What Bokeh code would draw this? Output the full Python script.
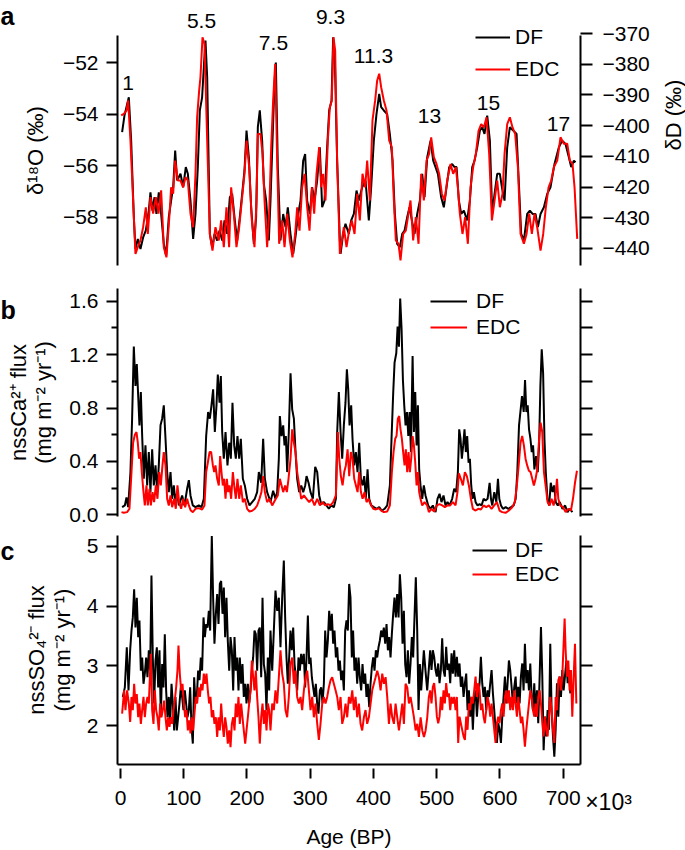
import math
from bokeh.plotting import figure
from bokeh.models import Range1d, LinearAxis, FixedTicker, Legend, LegendItem, Label, PrintfTickFormatter
from bokeh.layouts import column
from bokeh.embed import file_html
from bokeh.resources import INLINE

FONT = "Liberation Sans"

# ---------------- data ----------------
# Panel a: DF d18O (permil) and EDC dD (permil), age in ka BP
df_o18_age = [2.6, 6.3, 13.2, 16.9, 21.1, 23.7, 27.4, 31.6, 35.8, 40.1, 44.8, 47.4, 50.6, 53.8, 56.9, 60.6, 64.3, 68.5, 72.2, 76.4,
              80.1, 83.3, 86.5, 89.6, 94.9, 99.1, 103.3, 106.5, 110.7, 114.9, 118.6, 122.3, 125.5, 129.1, 131.8, 134.4, 137.1, 141.3, 145.0, 148.7,
              152.9, 156.6, 160.8, 164.5, 168.7, 172.9, 176.6, 180.8, 184.5, 188.7, 192.4, 196.1, 199.3, 203.0, 206.6, 210.9, 214.5, 217.2, 220.3, 224.0,
              226.7, 230.4, 234.6, 237.2, 240.4, 243.5, 245.7, 248.8, 253.0, 257.3, 261.0, 264.6, 268.8, 273.1, 277.3, 281.0, 284.7, 288.9, 292.0, 295.2,
              299.4, 303.1, 306.8, 311.0, 315.2, 318.9, 322.6, 326.8, 330.0, 333.7, 336.3, 339.0, 342.6, 346.9, 348.0, 352.1, 355.8, 361.1, 364.8, 369.0,
              373.2, 376.9, 382.2, 387.5, 392.7, 396.4, 400.6, 404.8, 409.1, 412.2, 416.4, 421.7, 425.9, 430.2, 433.9, 437.5, 441.8, 445.5, 449.2, 453.4,
              457.1, 460.8, 465.0, 469.2, 473.4, 477.1, 480.8, 485.0, 490.3, 494.5, 498.2, 501.9, 507.1, 511.3, 515.6, 519.8, 524.5, 528.2, 531.4, 535.1,
              538.8, 543.0, 548.2, 552.5, 556.2, 559.9, 564.1, 568.3, 571.9, 575.6, 579.9, 584.1, 587.8, 591.5, 595.7, 599.9, 603.1, 607.3, 611.5, 615.7,
              621.0, 626.3, 630.0, 633.6, 637.9, 643.1, 647.3, 651.6, 656.3, 660.0, 664.2, 669.5, 674.8, 680.0, 686.3, 693.2, 698.5, 703.7, 709.0, 712.7,
              716.9, 719.6]
df_o18 = [-54.7, -54.06, -53.35, -55.03, -58.0, -59.24, -58.85, -59.24, -58.79, -58.52, -57.75, -57.04, -57.75, -57.23, -57.88, -57.04, -57.88, -59.04, -59.5, -58.0,
          -57.36, -56.84, -55.42, -56.58, -56.32, -56.84, -56.06, -56.32, -57.36, -58.85, -57.88, -56.06, -53.86, -53.35, -52.18, -51.15, -52.57, -58.65, -59.17, -58.65,
          -58.91, -58.52, -58.91, -58.13, -58.65, -57.23, -57.1, -58.13, -58.91, -58.0, -57.1, -56.19, -54.64, -55.68, -57.62, -59.04, -58.0, -54.51, -53.86, -55.03,
          -56.71, -57.36, -58.91, -57.36, -55.03, -52.83, -52.0, -56.06, -58.91, -57.88, -58.39, -57.62, -58.65, -59.43, -58.65, -57.88, -57.36, -55.81, -55.55, -57.36,
          -57.88, -56.84, -57.36, -56.58, -55.29, -57.62, -57.36, -55.29, -53.86, -53.48, -51.02, -51.92, -55.81, -58.91, -59.43, -58.65, -58.26, -58.65, -58.13, -57.88,
          -56.97, -57.36, -56.84, -56.58, -58.13, -56.84, -55.03, -54.0, -53.22, -53.73, -53.86, -54.0, -54.77, -55.81, -57.88, -59.04, -59.17, -58.65, -58.52, -58.0,
          -57.62, -58.13, -58.65, -57.88, -57.36, -56.32, -57.23, -55.68, -55.03, -55.81, -56.06, -56.32, -57.23, -57.62, -56.84, -56.06, -55.94, -56.06, -56.06, -57.36,
          -57.88, -57.75, -58.13, -57.36, -56.06, -55.81, -55.29, -54.64, -54.51, -54.77, -54.06, -55.03, -57.88, -57.1, -56.32, -56.32, -56.84, -57.36, -55.29, -54.51,
          -54.64, -54.77, -56.71, -58.65, -58.91, -57.88, -57.75, -57.88, -57.88, -58.39, -57.88, -57.62, -57.1, -56.84, -55.94, -55.29, -55.03, -55.16, -55.68, -56.06,
          -55.81, -55.87]

edc_dD_age = [1.1, 5.3, 9.5, 12.1, 15.8, 20.0, 23.7, 27.4, 31.6, 35.8, 40.1, 43.2, 47.4, 51.7, 55.9, 60.1, 64.3, 68.5, 72.7, 76.9,
              80.1, 83.3, 86.5, 90.7, 94.9, 99.1, 102.8, 106.5, 110.7, 114.9, 118.6, 121.2, 124.4, 126.5, 129.7, 132.9, 137.1, 141.3, 145.5, 150.2,
              155.5, 159.2, 163.4, 167.6, 171.8, 175.0, 179.2, 183.4, 187.7, 191.9, 196.1, 199.3, 203.5, 207.7, 211.9, 215.1, 217.2, 221.4, 224.6, 227.8,
              231.9, 235.1, 238.3, 241.4, 244.6, 247.8, 250.9, 255.7, 259.4, 263.6, 267.8, 272.0, 276.2, 279.4, 283.1, 287.3, 291.0, 295.2, 298.9, 302.6,
              306.3, 310.0, 314.2, 317.3, 320.5, 324.2, 327.9, 331.0, 334.2, 336.8, 339.5, 342.6, 346.9, 353.2, 357.4, 361.6, 365.8, 370.1, 374.3, 378.5,
              382.7, 386.9, 390.1, 394.3, 398.5, 402.7, 405.9, 409.1, 412.2, 416.4, 420.7, 424.9, 429.1, 432.3, 435.4, 439.6, 442.8, 447.0, 451.2, 455.4,
              458.6, 462.8, 467.0, 471.3, 475.5, 479.7, 483.9, 488.1, 491.3, 495.5, 499.7, 503.9, 508.2, 512.4, 516.6, 521.9, 526.1, 530.3, 533.5, 536.6,
              540.8, 545.0, 549.3, 553.5, 557.7, 561.9, 566.2, 570.4, 574.6, 578.8, 583.0, 587.3, 591.5, 595.7, 599.9, 604.1, 607.3, 611.5, 615.7, 619.9,
              624.1, 628.4, 632.6, 637.9, 642.1, 646.3, 650.5, 654.7, 658.9, 664.2, 668.4, 672.6, 676.9, 681.1, 685.3, 690.6, 695.8, 701.1, 706.4, 710.6,
              714.8, 718.0, 722.2]
edc_dD = [-396.7, -396.2, -395.1, -391.8, -404.9, -424.4, -441.8, -439.6, -437.4, -433.1, -426.6, -435.3, -423.3, -428.7, -423.3, -428.7, -421.1, -439.6, -442.9, -430.9,
          -420.1, -422.2, -411.4, -417.9, -417.9, -420.1, -416.8, -417.9, -428.7, -433.1, -415.7, -397.3, -388.6, -384.2, -371.2, -373.4, -404.9, -435.3, -440.7, -433.1,
          -437.4, -430.9, -439.6, -426.6, -439.6, -420.1, -428.7, -439.6, -433.1, -424.4, -415.7, -404.9, -413.5, -430.9, -439.6, -424.4, -402.7, -402.7, -409.2, -424.4,
          -439.6, -428.7, -407.0, -391.8, -379.9, -411.4, -438.5, -430.9, -439.6, -428.7, -437.4, -442.9, -435.3, -426.6, -434.2, -420.1, -415.7, -426.6, -434.2, -420.1,
          -428.7, -415.7, -407.0, -420.1, -415.7, -424.4, -404.9, -394.0, -391.8, -371.2, -375.6, -411.4, -441.8, -433.1, -439.6, -434.2, -430.9, -435.3, -422.2, -430.9,
          -415.7, -420.1, -411.4, -424.4, -398.3, -391.8, -385.3, -383.1, -387.5, -391.8, -395.1, -404.9, -407.0, -424.4, -437.4, -438.5, -443.9, -435.3, -434.2, -428.7,
          -424.4, -437.4, -429.8, -438.5, -415.7, -424.4, -411.4, -409.2, -403.8, -410.3, -412.5, -415.7, -422.2, -424.4, -417.9, -412.5, -415.7, -413.5, -420.1, -428.7,
          -435.3, -429.8, -438.5, -420.1, -413.5, -409.2, -401.7, -399.5, -400.6, -397.3, -409.2, -430.9, -424.4, -417.9, -426.6, -422.2, -409.2, -399.5, -397.3, -400.6,
          -402.7, -413.5, -435.3, -438.5, -435.3, -428.7, -435.3, -428.7, -433.1, -440.7, -435.3, -426.6, -420.1, -417.9, -413.5, -411.4, -403.8, -405.9, -405.9, -411.4,
          -412.5, -420.1, -436.9]

# Panel b: nssCa2+ flux (mg m-2 yr-1)
df_ca_age = [2.6, 6.9, 9.5, 12.1, 15.8, 18.4, 21.1, 23.7, 25.8, 28.0, 30.0, 32.2, 34.3, 36.9, 39.5, 42.2, 44.8, 47.4, 50.1, 52.7,
             55.4, 58.0, 60.6, 63.3, 65.9, 68.5, 71.2, 73.8, 76.4, 79.1, 81.7, 84.3, 87.0, 89.6, 92.3, 97.5, 101.2, 105.4, 108.1, 110.7,
             114.4, 118.6, 123.9, 128.1, 131.8, 135.5, 138.6, 141.3, 143.9, 146.5, 149.2, 151.8, 153.9, 156.6, 158.7, 160.8, 163.4, 166.1, 169.2, 171.9,
             174.5, 177.1, 179.8, 182.4, 185.0, 187.7, 190.3, 193.5, 196.6, 200.3, 204.0, 208.2, 212.4, 216.1, 218.8, 222.5, 225.6, 228.3, 231.9, 235.6,
             237.2, 241.4, 245.1, 247.8, 250.4, 252.0, 254.7, 257.3, 259.4, 261.5, 263.6, 266.2, 268.9, 271.5, 274.2, 276.8, 279.4, 282.6, 285.8, 288.9,
             292.1, 294.2, 297.4, 300.5, 304.2, 307.9, 311.1, 314.2, 317.4, 321.6, 325.8, 329.5, 333.2, 337.4, 340.6, 342.7, 345.3, 348.0, 350.6, 353.2,
             355.8, 358.0, 360.1, 362.2, 364.8, 366.9, 369.6, 372.2, 374.8, 377.5, 380.1, 382.8, 385.4, 388.0, 390.7, 393.3, 396.5, 400.7, 404.9, 409.1,
             413.3, 417.6, 421.8, 426.0, 428.6, 431.3, 433.4, 436.1, 438.2, 440.3, 442.3, 444.5, 446.6, 448.7, 450.8, 453.0, 455.1, 457.2, 459.3, 461.9,
             464.0, 466.1, 468.2, 470.3, 472.3, 474.4, 477.1, 479.7, 482.3, 486.6, 490.3, 493.9, 498.2, 501.3, 504.5, 507.6, 510.8, 514.0, 517.1, 520.3,
             524.5, 527.7, 530.8, 533.5, 535.6, 537.7, 539.8, 541.9, 544.0, 546.1, 548.2, 550.4, 552.5, 554.6, 556.7, 558.8, 561.5, 564.6, 567.8, 571.0,
             574.2, 577.3, 580.5, 583.7, 585.8, 587.9, 591.1, 594.3, 596.9, 599.0, 601.7, 604.8, 609.1, 613.3, 617.5, 621.7, 624.9, 627.5, 630.2, 632.8,
             634.9, 637.6, 639.7, 641.8, 643.9, 646.0, 648.2, 650.3, 652.4, 654.5, 657.2, 659.8, 661.9, 664.0, 666.1, 668.3, 670.4, 672.5, 675.1, 677.8,
             680.4, 683.1, 685.7, 688.3, 691.5, 694.7, 698.9, 703.1, 706.8, 710.5, 714.6]
df_ca = [0.057, 0.07, 0.13, 0.057, 0.32, 0.72, 1.26, 0.965, 1.13, 0.89, 0.67, 0.92, 0.59, 0.27, 0.52, 0.22, 0.47, 0.17, 0.49, 0.22,
         0.37, 0.17, 0.37, 0.67, 0.72, 0.82, 0.57, 0.32, 0.17, 0.32, 0.12, 0.22, 0.095, 0.17, 0.07, 0.145, 0.07, 0.195, 0.26, 0.145,
         0.07, 0.057, 0.07, 0.057, 0.12, 0.59, 0.77, 0.72, 0.82, 0.94, 0.62, 0.82, 1.05, 0.84, 1.04, 0.62, 0.42, 0.62, 0.37, 0.54,
         0.42, 0.84, 0.52, 0.42, 0.59, 0.42, 0.57, 0.27, 0.22, 0.12, 0.07, 0.095, 0.12, 0.17, 0.32, 0.24, 0.57, 0.27, 0.17, 0.12,
         0.095, 0.18, 0.12, 0.17, 0.42, 0.74, 0.59, 0.67, 0.52, 0.59, 0.32, 0.62, 1.06, 0.79, 0.72, 0.47, 0.27, 0.17, 0.22, 0.17,
         0.22, 0.29, 0.24, 0.17, 0.12, 0.36, 0.32, 0.145, 0.08, 0.095, 0.07, 0.045, 0.07, 0.057, 0.12, 0.62, 0.92, 0.62, 0.42, 0.67,
         0.84, 1.09, 0.94, 0.67, 0.82, 0.57, 0.37, 0.47, 0.32, 0.54, 0.27, 0.22, 0.29, 0.12, 0.34, 0.12, 0.07, 0.057, 0.045, 0.057,
         0.03, 0.045, 0.07, 0.22, 0.57, 0.92, 1.14, 1.21, 1.41, 1.26, 1.62, 1.39, 1.01, 0.82, 0.67, 0.77, 0.59, 0.77, 0.47, 1.19,
         0.62, 0.92, 0.52, 0.82, 0.34, 0.22, 0.12, 0.22, 0.145, 0.07, 0.045, 0.07, 0.02, 0.12, 0.157, 0.095, 0.145, 0.07, 0.095, 0.07,
         0.12, 0.195, 0.17, 0.32, 0.64, 0.57, 0.42, 0.52, 0.64, 0.47, 0.59, 0.39, 0.42, 0.22, 0.12, 0.17, 0.095, 0.07, 0.08, 0.07,
         0.12, 0.107, 0.12, 0.24, 0.12, 0.07, 0.17, 0.095, 0.27, 0.12, 0.07, 0.045, 0.057, 0.045, 0.057, 0.07, 0.12, 0.32, 0.67, 0.79,
         0.89, 0.77, 1.01, 0.77, 0.82, 0.64, 0.57, 0.47, 0.52, 0.34, 0.44, 0.32, 0.52, 0.97, 1.24, 1.06, 0.57, 0.32, 0.12, 0.07,
         0.24, 0.17, 0.22, 0.095, 0.07, 0.095, 0.045, 0.07, 0.02, 0.045, 0.02]

edc_ca_age = [1.6, 5.3, 10.5, 14.2, 17.4, 20.0, 22.7, 25.3, 27.4, 29.5, 31.6, 33.7, 36.4, 38.5, 41.1, 43.2, 45.9, 48.0, 50.6, 53.2,
              55.9, 58.5, 61.2, 63.8, 66.4, 68.5, 71.2, 73.8, 76.4, 79.1, 81.7, 84.9, 87.5, 90.1, 92.8, 95.9, 99.1, 102.3, 105.4, 108.1,
              111.2, 114.4, 118.6, 123.9, 129.1, 132.8, 135.5, 138.1, 140.8, 143.4, 146.1, 148.1, 150.2, 152.9, 155.5, 157.6, 159.7, 161.8, 163.9, 166.1,
              168.2, 170.3, 172.4, 175.0, 177.7, 179.8, 182.4, 185.0, 187.7, 190.3, 193.5, 196.6, 200.3, 204.0, 208.2, 212.4, 216.1, 219.8, 222.9, 225.6,
              228.3, 231.9, 235.6, 239.9, 245.6, 248.8, 252.0, 254.7, 257.3, 260.4, 263.1, 265.7, 268.9, 271.5, 274.2, 276.8, 279.4, 282.6, 285.8, 290.0,
              294.2, 298.4, 302.6, 306.8, 311.1, 315.3, 319.5, 323.7, 327.9, 332.1, 336.3, 340.6, 343.7, 345.9, 348.5, 351.2, 353.8, 356.4, 359.1, 361.7,
              364.4, 367.0, 369.6, 372.3, 374.9, 377.5, 380.2, 382.8, 386.0, 389.1, 392.3, 395.4, 399.7, 403.9, 408.1, 412.3, 416.5, 421.8, 426.0, 429.1,
              431.8, 434.4, 436.5, 438.6, 440.7, 442.8, 444.9, 447.0, 449.2, 451.2, 453.4, 455.5, 457.6, 459.7, 461.9, 464.0, 466.1, 468.2, 470.3, 472.3,
              474.4, 477.1, 480.8, 485.0, 487.6, 491.8, 496.0, 500.3, 504.5, 508.7, 512.9, 517.1, 521.3, 525.6, 529.8, 532.9, 535.1, 538.2, 541.4, 544.6,
              547.7, 550.9, 554.1, 557.2, 561.5, 565.7, 569.9, 574.1, 578.3, 582.6, 586.8, 591.0, 595.2, 599.4, 603.6, 608.9, 614.2, 619.4, 623.6, 626.8,
              630.0, 632.6, 635.2, 637.9, 640.5, 643.1, 645.8, 648.4, 651.1, 653.7, 656.4, 659.0, 661.6, 664.3, 666.9, 669.6, 672.2, 675.4, 678.6, 681.7,
              684.9, 688.0, 690.2, 692.3, 695.4, 699.7, 703.9, 708.1, 712.3, 715.5, 718.7, 721.8]
edc_ca = [0.02, 0.015, 0.02, 0.045, 0.32, 0.54, 0.60, 0.62, 0.54, 0.42, 0.47, 0.32, 0.17, 0.07, 0.22, 0.07, 0.195, 0.07, 0.17, 0.095,
          0.22, 0.12, 0.32, 0.22, 0.37, 0.47, 0.37, 0.12, 0.07, 0.145, 0.057, 0.12, 0.045, 0.22, 0.095, 0.045, 0.12, 0.057, 0.12, 0.07,
          0.032, 0.02, 0.045, 0.05, 0.04, 0.07, 0.32, 0.39, 0.47, 0.47, 0.37, 0.32, 0.37, 0.27, 0.22, 0.44, 0.32, 0.22, 0.27, 0.12,
          0.27, 0.17, 0.22, 0.12, 0.32, 0.22, 0.12, 0.27, 0.12, 0.22, 0.095, 0.12, 0.045, 0.025, 0.03, 0.045, 0.07, 0.12, 0.17, 0.29,
          0.17, 0.095, 0.12, 0.07, 0.12, 0.145, 0.27, 0.22, 0.17, 0.22, 0.17, 0.27, 0.42, 0.64, 0.54, 0.47, 0.32, 0.22, 0.12, 0.145,
          0.12, 0.095, 0.12, 0.07, 0.12, 0.07, 0.095, 0.07, 0.08, 0.07, 0.095, 0.145, 0.62, 0.42, 0.29, 0.22, 0.32, 0.37, 0.49, 0.29,
          0.47, 0.42, 0.27, 0.22, 0.17, 0.32, 0.17, 0.12, 0.17, 0.095, 0.12, 0.08, 0.045, 0.04, 0.05, 0.032, 0.02, 0.025, 0.07, 0.32,
          0.47, 0.57, 0.59, 0.72, 0.74, 0.64, 0.57, 0.47, 0.37, 0.49, 0.32, 0.47, 0.32, 0.42, 0.59, 0.52, 0.39, 0.22, 0.32, 0.17,
          0.12, 0.07, 0.095, 0.07, 0.02, 0.045, 0.025, 0.07, 0.08, 0.07, 0.057, 0.07, 0.07, 0.095, 0.07, 0.17, 0.31, 0.27, 0.22, 0.32,
          0.29, 0.22, 0.12, 0.045, 0.032, 0.045, 0.04, 0.07, 0.057, 0.07, 0.045, 0.07, 0.095, 0.032, 0.02, 0.015, 0.032, 0.057, 0.095, 0.22,
          0.39, 0.54, 0.59, 0.52, 0.42, 0.37, 0.33, 0.32, 0.27, 0.22, 0.27, 0.34, 0.54, 0.69, 0.62, 0.32, 0.22, 0.095, 0.07, 0.12,
          0.07, 0.145, 0.27, 0.12, 0.07, 0.057, 0.02, 0.045, 0.032, 0.12, 0.24, 0.33]

# Panel c: nssSO4 2- flux (mg m-2 yr-1)
df_so4_age = [3.7, 6.9, 10.0, 12.7, 15.3, 17.4, 19.5, 21.6, 23.7, 25.8, 28.0, 30.0, 32.2, 34.3, 36.4, 38.5, 40.6, 42.7, 44.8, 46.9,
              49.0, 51.1, 53.2, 55.4, 57.5, 59.6, 61.7, 63.8, 65.9, 68.0, 70.1, 72.2, 74.3, 76.4, 78.5, 80.7, 82.8, 84.9, 87.0, 89.1,
              91.2, 93.3, 95.4, 97.5, 99.6, 101.7, 103.8, 105.9, 108.1, 110.2, 112.3, 114.4, 116.5, 118.6, 120.7, 122.8, 124.9, 127.0, 129.1, 131.3,
              133.4, 135.5, 137.6, 139.7, 141.8, 144.4, 146.5, 148.6, 150.8, 152.9, 155.0, 157.1, 159.2, 161.3, 163.4, 165.5, 167.6, 169.7, 171.9, 174.0,
              176.1, 178.2, 180.3, 182.4, 184.5, 186.6, 188.7, 190.8, 192.9, 195.0, 197.2, 199.3, 201.4, 203.5, 205.6, 207.7, 209.8, 211.9, 214.0, 216.1,
              218.2, 220.3, 222.5, 224.6, 226.7, 228.8, 230.9, 233.0, 235.1, 237.2, 239.9, 245.1, 247.8, 250.4, 253.0, 255.7, 258.3, 260.4, 262.5, 264.6,
              266.7, 268.8, 270.9, 273.1, 275.2, 277.3, 279.4, 281.5, 283.6, 285.7, 287.8, 289.9, 292.0, 294.2, 296.3, 298.4, 300.5, 302.6, 304.7, 306.8,
              308.9, 311.0, 313.1, 315.3, 317.4, 319.5, 321.6, 323.7, 325.8, 327.9, 330.0, 332.1, 334.2, 336.3, 338.4, 340.6, 342.7, 344.8, 346.9, 349.0,
              351.1, 353.2, 355.3, 357.4, 359.5, 361.6, 363.7, 365.8, 367.8, 370.0, 372.2, 374.3, 376.4, 378.5, 380.6, 382.7, 384.8, 386.9, 389.0, 391.1,
              393.3, 395.4, 397.5, 399.6, 401.7, 403.8, 405.9, 408.0, 410.1, 412.2, 414.3, 416.4, 418.6, 420.7, 422.8, 424.9, 427.0, 429.1, 431.2, 433.3,
              435.4, 437.5, 439.7, 441.8, 443.9, 446.0, 448.1, 450.2, 452.3, 454.4, 456.5, 458.6, 460.7, 462.8, 464.9, 467.0, 469.2, 471.3, 473.4, 475.5,
              477.6, 479.7, 482.3, 485.0, 488.1, 489.7, 491.8, 493.9, 496.0, 498.2, 500.3, 502.4, 504.5, 506.6, 508.7, 510.8, 512.9, 515.0, 517.1, 519.3,
              521.4, 523.5, 525.6, 527.7, 529.8, 531.9, 534.0, 536.1, 538.2, 540.3, 542.5, 544.6, 546.7, 548.8, 550.9, 553.0, 555.1, 557.2, 559.3, 561.5,
              563.6, 565.7, 567.8, 569.9, 572.0, 574.1, 576.2, 578.3, 580.5, 582.6, 584.7, 586.8, 588.9, 591.0, 593.1, 595.2, 597.3, 599.4, 601.6, 603.7,
              605.8, 607.9, 610.0, 612.1, 614.2, 616.3, 618.4, 620.6, 622.7, 624.8, 626.9, 629.0, 631.1, 633.2, 635.3, 637.4, 639.5, 641.7, 643.8, 645.9,
              648.0, 650.1, 652.2, 654.3, 656.4, 658.5, 660.6, 662.8, 664.9, 667.0, 669.1, 671.2, 673.3, 675.4, 677.5, 679.6, 681.7, 683.9, 686.0, 688.1,
              690.2, 692.3, 694.4, 696.5, 698.6, 700.7, 702.8, 705.0, 707.1, 709.2, 711.3]
df_so4 = [2.48, 2.64, 3.31, 2.59, 3.26, 3.59, 3.81, 4.28, 3.64, 4.14, 3.48, 3.76, 2.92, 3.14, 2.7, 2.87, 3.14, 2.81, 3.26, 2.92,
          4.51, 3.14, 2.37, 3.09, 3.31, 2.64, 3.26, 2.14, 3.03, 2.64, 3.53, 2.59, 2.14, 2.48, 2.03, 2.7, 2.37, 1.92, 2.48, 1.92,
          2.14, 2.37, 2.64, 2.48, 2.26, 2.59, 2.37, 2.14, 2.26, 2.64, 1.98, 1.7, 2.81, 2.37, 2.48, 2.92, 2.76, 3.14, 2.92, 3.81,
          3.48, 3.7, 3.64, 3.92, 3.59, 5.17, 4.14, 3.37, 3.87, 4.2, 3.7, 4.37, 4.42, 3.87, 4.31, 3.48, 4.14, 3.42, 2.92, 3.48,
          3.26, 2.59, 3.48, 2.92, 3.14, 2.59, 3.14, 2.7, 3.03, 2.48, 2.7, 2.37, 2.7, 2.37, 2.59, 2.92, 3.14, 3.59, 3.53, 2.92,
          3.59, 3.64, 2.81, 4.14, 3.03, 2.87, 2.26, 3.14, 2.59, 3.59, 2.92, 4.26, 3.92, 4.14, 3.31, 4.14, 4.76, 3.81, 3.14, 2.7,
          3.14, 3.59, 3.26, 3.64, 3.03, 2.81, 2.59, 3.14, 2.92, 3.2, 3.03, 3.2, 2.64, 3.14, 3.84, 3.03, 3.14, 2.81, 2.64, 2.48,
          2.7, 2.37, 2.2, 2.59, 2.64, 2.37, 2.7, 3.59, 3.14, 3.42, 3.92, 3.59, 3.87, 3.37, 3.59, 3.14, 3.31, 2.92, 3.09, 2.76,
          2.92, 2.59, 3.59, 3.76, 3.59, 4.37, 4.14, 3.14, 3.59, 2.92, 3.14, 2.7, 3.14, 2.81, 2.59, 3.03, 2.7, 2.87, 2.48, 2.7,
          2.31, 2.7, 2.98, 3.14, 2.92, 3.26, 3.14, 3.31, 3.42, 3.59, 3.48, 3.64, 3.37, 3.7, 3.26, 3.48, 3.14, 3.53, 3.87, 4.14,
          3.81, 4.2, 3.81, 4.53, 4.14, 3.37, 3.92, 3.03, 2.81, 3.26, 2.7, 3.03, 3.48, 3.14, 3.81, 4.48, 3.59, 2.26, 3.03, 2.59,
          2.92, 3.26, 2.92, 2.59, 3.03, 3.26, 2.93, 3.26, 3.15, 2.93, 2.82, 3.04, 2.71, 2.93, 3.46, 2.93, 2.82, 3.32, 2.93, 3.04,
          2.71, 3.21, 2.87, 3.26, 2.82, 3.15, 2.82, 3.04, 2.65, 2.82, 2.48, 2.71, 2.87, 2.26, 2.59, 2.15, 2.48, 1.93, 2.48, 2.59,
          2.15, 2.48, 2.71, 3.15, 2.71, 2.48, 2.65, 2.26, 2.59, 2.48, 2.71, 2.93, 2.54, 2.26, 1.93, 1.71, 2.04, 1.93, 1.71, 2.15,
          2.48, 2.82, 2.37, 2.71, 3.09, 2.93, 2.65, 2.37, 2.65, 2.82, 2.37, 2.65, 2.37, 2.82, 3.04, 2.59, 3.37, 2.71, 2.93, 2.59,
          3.04, 2.48, 2.26, 2.71, 2.15, 2.59, 2.04, 2.82, 3.65, 2.82, 1.59, 2.15, 1.82, 2.26, 1.93, 3.37, 2.26, 1.82, 1.48, 1.93,
          2.71, 2.15, 2.82, 2.48, 2.93, 2.59, 2.82, 3.09, 2.71, 2.93, 2.54]

edc_so4_age = [2.6, 5.8, 7.9, 10.5, 13.2, 15.3, 17.4, 19.5, 21.6, 23.7, 25.8, 28.0, 30.0, 32.2, 34.3, 36.4, 38.5, 40.6, 42.7, 44.8,
               46.9, 48.0, 50.1, 52.2, 54.3, 56.4, 58.5, 60.6, 62.7, 64.8, 66.9, 69.1, 71.2, 73.3, 75.4, 77.5, 79.6, 81.7, 83.8, 85.9,
               88.0, 90.1, 91.7, 93.8, 95.9, 98.1, 100.2, 102.3, 104.4, 106.5, 108.6, 110.7, 112.8, 114.9, 117.0, 119.1, 121.2, 123.4, 125.5, 127.6,
               129.7, 131.8, 133.9, 136.0, 138.1, 140.2, 142.3, 144.4, 146.5, 148.6, 150.8, 152.9, 155.0, 157.1, 159.2, 161.3, 163.4, 165.5, 167.6, 169.7,
               171.9, 174.0, 176.1, 178.2, 180.3, 182.4, 184.5, 186.6, 188.7, 190.8, 192.9, 195.0, 197.2, 199.3, 201.4, 203.5, 205.6, 207.7, 209.8, 211.9,
               214.0, 216.1, 218.2, 220.3, 222.5, 224.6, 226.7, 228.8, 230.9, 233.0, 235.1, 237.2, 239.9, 242.5, 245.1, 247.8, 250.4, 253.0, 255.7, 258.3,
               260.9, 263.6, 266.2, 268.9, 271.5, 274.2, 276.8, 279.4, 282.1, 284.7, 287.3, 290.0, 292.6, 295.3, 297.9, 300.5, 303.2, 305.8, 308.4, 311.1,
               313.7, 316.3, 319.0, 321.6, 324.2, 326.9, 329.5, 332.2, 334.8, 337.4, 340.1, 342.7, 345.3, 348.0, 350.6, 353.2, 355.9, 358.5, 361.2, 363.8,
               366.5, 369.1, 371.7, 374.3, 377.0, 379.6, 382.2, 384.9, 387.5, 390.1, 392.8, 395.5, 398.1, 400.7, 403.4, 406.0, 408.6, 411.3, 413.9, 416.6,
               419.2, 421.8, 424.5, 427.1, 429.7, 432.4, 435.0, 437.6, 440.3, 442.9, 445.6, 448.2, 450.8, 453.5, 456.1, 458.7, 461.4, 464.0, 466.7, 469.3,
               471.9, 474.6, 477.2, 479.9, 482.5, 485.1, 487.6, 489.7, 491.8, 493.9, 496.0, 498.2, 500.3, 502.4, 504.5, 506.6, 508.7, 510.8, 512.9, 515.0,
               517.1, 519.3, 521.4, 523.5, 525.6, 527.7, 529.8, 531.9, 534.0, 536.1, 538.2, 540.3, 542.5, 544.6, 546.7, 548.8, 550.9, 553.0, 555.1, 557.2,
               559.3, 561.5, 563.6, 565.7, 567.8, 569.9, 572.0, 574.1, 576.2, 578.3, 580.5, 582.6, 584.7, 586.8, 588.9, 591.0, 593.1, 595.2, 597.3, 599.4,
               601.6, 603.7, 605.8, 607.9, 610.0, 612.1, 614.2, 616.3, 618.4, 620.6, 622.7, 624.8, 626.9, 629.0, 631.1, 633.2, 635.3, 637.4, 639.5, 641.7,
               643.8, 645.9, 648.0, 650.1, 652.2, 654.3, 656.4, 658.5, 660.6, 662.8, 664.9, 667.0, 669.1, 671.2, 673.3, 675.4, 677.5, 679.6, 681.7, 683.9,
               686.0, 688.1, 690.2, 692.3, 694.4, 696.5, 698.6, 700.7, 702.3, 703.9, 706.0, 708.1, 710.2, 712.3, 714.4, 716.6, 718.7, 720.8]
edc_so4 = [2.2, 2.59, 2.26, 2.59, 2.37, 2.06, 2.48, 2.26, 2.7, 2.37, 2.53, 2.14, 2.37, 2.03, 2.26, 2.48, 2.14, 2.37, 2.48, 2.37,
           2.92, 3.2, 2.26, 2.03, 2.59, 2.26, 2.14, 1.92, 2.37, 2.14, 2.26, 2.42, 2.14, 1.92, 2.14, 1.98, 2.14, 2.03, 2.26, 2.42,
           2.64, 2.92, 3.34, 2.87, 2.59, 2.7, 2.37, 2.14, 2.26, 1.92, 2.09, 1.87, 2.14, 1.92, 2.2, 2.48, 2.37, 2.64, 2.48, 2.7,
           2.59, 2.87, 2.7, 2.87, 2.59, 2.37, 2.48, 2.14, 2.26, 2.03, 2.14, 1.81, 2.14, 1.92, 2.37, 2.03, 1.81, 2.14, 1.98, 1.7,
           1.92, 1.64, 2.03, 2.14, 1.92, 2.37, 2.14, 2.48, 2.03, 2.37, 2.14, 1.92, 1.7, 1.92, 2.14, 2.37, 2.59, 3.09, 2.81, 2.59,
           2.92, 2.48, 2.14, 1.7, 2.14, 2.37, 2.03, 2.26, 1.92, 2.37, 2.26, 1.92, 2.37, 2.26, 2.59, 2.37, 2.81, 3.26, 2.87, 2.7,
           2.26, 2.14, 2.48, 3.03, 3.14, 2.7, 2.92, 2.48, 2.37, 2.48, 2.26, 2.59, 2.81, 2.92, 2.59, 2.26, 2.48, 2.14, 2.37, 2.03,
           1.76, 2.03, 2.37, 2.48, 2.37, 2.48, 2.64, 2.76, 2.81, 2.7, 2.59, 2.48, 2.26, 2.48, 2.03, 2.14, 2.37, 2.14, 2.48, 2.37,
           2.59, 2.26, 2.48, 2.14, 2.37, 2.03, 1.92, 2.14, 2.26, 2.03, 2.14, 2.37, 2.59, 2.7, 2.81, 2.92, 2.81, 2.59, 2.87, 2.7,
           2.81, 2.48, 2.03, 2.37, 2.14, 2.03, 2.37, 2.14, 1.92, 2.14, 2.37, 2.03, 2.7, 2.64, 2.37, 2.48, 2.31, 2.14, 1.92, 2.03,
           1.81, 2.14, 1.92, 1.81, 1.92, 2.14, 2.48, 2.59, 2.37, 2.65, 2.71, 2.48, 2.15, 2.04, 2.15, 2.48, 2.26, 2.59, 2.37, 2.71,
           2.48, 2.54, 2.26, 2.48, 2.37, 2.48, 2.26, 2.48, 1.71, 2.15, 2.04, 1.93, 1.82, 1.76, 2.15, 1.93, 2.37, 2.26, 2.48, 2.37,
           2.59, 2.82, 2.48, 2.71, 2.59, 2.26, 2.37, 2.15, 2.04, 2.26, 2.48, 2.37, 2.15, 2.37, 2.15, 1.93, 1.71, 2.04, 2.15, 2.04,
           2.26, 2.37, 2.15, 2.48, 2.59, 2.37, 2.59, 2.26, 2.48, 2.26, 2.59, 2.37, 2.15, 2.48, 2.26, 2.04, 2.15, 1.93, 1.65, 1.93,
           2.15, 2.37, 2.59, 2.48, 2.26, 2.15, 2.37, 2.15, 2.48, 2.59, 2.37, 2.04, 1.82, 2.15, 1.93, 1.82, 2.15, 2.48, 2.26, 1.93,
           1.71, 2.48, 2.26, 2.76, 2.82, 2.59, 2.82, 3.37, 3.79, 3.26, 2.82, 3.09, 2.59, 2.93, 2.15, 2.82, 3.37, 2.37]

# Marine isotope stage annotations (age ka, d18O position)
mis_labels = ["1", "5.5", "7.5", "9.3", "11.3", "13", "15", "17"]
mis_age = [12.2, 128.1, 241.9, 332.1, 400.1, 488.6, 581.9, 692.6]
mis_y = [-52.78, -50.40, -51.26, -50.25, -51.73, -54.06, -53.59, -54.37]

# Axis ticks / texts
age_ticks = [0, 100, 200, 300, 400, 500, 600, 700]
age_unit = "×10³"
o18_ticks = [-58, -56, -54, -52]
dD_ticks = [-440, -430, -420, -410, -400, -390, -380, -370]
ca_ticks = [0.0, 0.4, 0.8, 1.2, 1.6]
ca_minor = [0.2, 0.6, 1.0, 1.4]
ca_right_ticks = [0.0, 0.2, 0.4, 0.6, 0.8, 1.0, 1.2, 1.4, 1.6]
so4_ticks = [2, 3, 4, 5]
panel_names = ["a", "b", "c"]

# ---------------- layout geometry ----------------
W = 685
X0, X1 = -4.7, 727.4            # age span covered by the axes box
PX_PER_KA = 0.6324
FRAME_L, FRAME_R = 117, 105      # pixels left / right of the axes box
x_range = Range1d(X0 - FRAME_L / PX_PER_KA, X1 + FRAME_R / PX_PER_KA)
TICK_FS = "21px"
LAB_FS = "22px"
INK = "black"


def ext_range(lo, hi, px_lo, px_hi, height):
    """Range covering the whole canvas height so that [lo, hi] spans canvas rows px_hi..px_lo."""
    k = (hi - lo) / (px_lo - px_hi)
    return Range1d(lo - (height - px_lo) * k, hi + px_hi * k)


def make_fig(height, y_range):
    p = figure(width=W, height=height, x_range=x_range, y_range=y_range,
               output_backend="svg", toolbar_location=None,
               x_axis_location=None, y_axis_location=None,
               min_border_left=0, min_border_right=0, min_border_top=0, min_border_bottom=0)
    p.outline_line_color = None
    p.grid.visible = False
    p.background_fill_color = "white"
    p.border_fill_color = "white"
    return p


def make_axis(p, side, loc, bounds, ticks, tick_out=11, show_labels=True, **kw):
    ax = LinearAxis(ticker=FixedTicker(ticks=ticks), fixed_location=loc, bounds=bounds, **kw)
    ax.axis_line_width = 2
    ax.axis_line_color = INK
    ax.major_tick_line_width = 2
    ax.minor_tick_line_width = 2
    ax.major_tick_line_color = INK
    ax.minor_tick_line_color = INK
    ax.major_tick_in = 0
    ax.major_tick_out = tick_out
    ax.minor_tick_in = 0
    ax.minor_tick_out = 0
    ax.major_label_text_font = FONT
    ax.major_label_text_font_size = TICK_FS
    ax.major_label_text_color = INK if show_labels else None
    ax.major_label_standoff = 8
    ax.axis_label_text_font = FONT
    ax.axis_label_text_font_size = LAB_FS
    ax.axis_label_text_font_style = "normal"
    ax.axis_label_text_color = INK
    ax.axis_label_text_line_height = 1.02
    ax.axis_label_standoff = 10
    p.add_layout(ax, side)
    return ax


def minus(v):
    return ("%g" % v).replace("-", "\u2212")


def add_legend(p, r_df, r_edc, loc, spacing, standoff, glyph_w):
    leg = Legend(items=[LegendItem(label="DF", renderers=[r_df]),
                        LegendItem(label="EDC", renderers=[r_edc])],
                 location=loc, orientation="vertical", border_line_color=None,
                 background_fill_alpha=0, padding=0, margin=0, spacing=spacing,
                 glyph_width=glyph_w, glyph_height=24, label_height=24,
                 label_standoff=standoff, label_text_font=FONT, label_text_color=INK,
                 label_text_font_size="21px", label_text_baseline="middle")
    p.add_layout(leg)


def panel_letter(p, txt, base):
    p.add_layout(Label(x=0, y=base, x_units="canvas", y_units="canvas", text=txt,
                       text_font=FONT, text_font_style="bold", text_font_size="25px",
                       text_color=INK, text_baseline="alphabetic", text_align="left"))


# ---- panel a (canvas rows 0..276) ----
A_LO, A_HI = -59.88, -50.95
D_LO, D_HI = -445.57, -370.65
pa = make_fig(276, ext_range(A_LO, A_HI, 265, 35, 276))
pa.extra_y_ranges = {"dD": ext_range(D_LO, D_HI, 265, 35, 276)}
ra_df = pa.line(df_o18_age, df_o18, line_color="black", line_width=2)
ra_edc = pa.line(edc_dD_age, edc_dD, line_color="red", line_width=2, y_range_name="dD")
ax = make_axis(pa, "left", X0, (A_LO, A_HI), o18_ticks, axis_label="δ¹⁸O (‰)")
ax.major_label_overrides = {t: minus(t) for t in o18_ticks}
ax.axis_label_standoff = 12
ax = make_axis(pa, "right", X1, (D_LO, D_HI), dD_ticks, tick_out=12, y_range_name="dD", axis_label="δD (‰)")
ax.major_label_overrides = {t: minus(t) for t in dD_ticks}
ax.major_label_standoff = 10
ax.axis_label_standoff = 21
ax.axis_label_orientation = math.pi / 2
for txt, xa, ya in zip(mis_labels, mis_age, mis_y):
    pa.add_layout(Label(x=xa, y=ya, text=txt, text_align="center", text_baseline="middle",
                        text_font=FONT, text_font_size="21px", text_color=INK))
add_legend(pa, ra_df, ra_edc, (475, 195), 8, 5, 35)
panel_letter(pa, panel_names[0], 15)

# ---- panel b (canvas rows 0..250, page 276..526) ----
B_LO, B_HI = -0.0127, 1.693
pb = make_fig(250, ext_range(B_LO, B_HI, 240, 12.3, 250))
rb_df = pb.line(df_ca_age, df_ca, line_color="black", line_width=2)
rb_edc = pb.line(edc_ca_age, edc_ca, line_color="red", line_width=2)
ax = make_axis(pb, "left", X0, (B_LO, B_HI), ca_ticks, axis_label="nssCa²⁺ flux\n(mg m⁻² yr⁻¹)",
               formatter=PrintfTickFormatter(format="%.1f"))
ax.ticker = FixedTicker(ticks=ca_ticks, minor_ticks=ca_minor)
ax.minor_tick_out = 6
ax.axis_label_standoff = 10
make_axis(pb, "right", X1, (B_LO, B_HI), ca_right_ticks, tick_out=12, show_labels=False)
add_legend(pb, rb_df, rb_edc, (430, 187), 2, 9, 37)
panel_letter(pb, panel_names[1], 33)

# ---- panel c (canvas rows 0..324, page 526..850) ----
C_LO, C_HI = 1.35, 5.18
pc = make_fig(324, ext_range(C_LO, C_HI, 238, 9, 324))
rc_df = pc.line(df_so4_age, df_so4, line_color="black", line_width=2)
rc_edc = pc.line(edc_so4_age, edc_so4, line_color="red", line_width=2)
ax = make_axis(pc, "left", X0, (C_LO, C_HI), so4_ticks, axis_label="nssSO₄²⁻ flux\n(mg m⁻² yr⁻¹)")
ax.axis_label_standoff = 9
make_axis(pc, "right", X1, (C_LO, C_HI), so4_ticks, tick_out=12, show_labels=False)
ax = make_axis(pc, "below", C_LO, (X0, X1), age_ticks, axis_label="Age (BP)")
ax.major_tick_in = -4
ax.major_tick_out = 14
ax.major_label_standoff = 12
ax.axis_label_standoff = 17
ax.axis_label_text_font_size = TICK_FS
pc.add_layout(Label(x=age_ticks[-1], y=275, y_units="canvas", x_offset=22, text=age_unit,
                    text_font=FONT, text_font_size="23px", text_color=INK,
                    text_baseline="middle", text_align="left"))
add_legend(pc, rc_df, rc_edc, (472, 264), 0, 8, 35)
panel_letter(pc, panel_names[2], 24)

layout = column(pa, pb, pc, spacing=0)

open("out.html", "w").write(file_html(layout, INLINE))
